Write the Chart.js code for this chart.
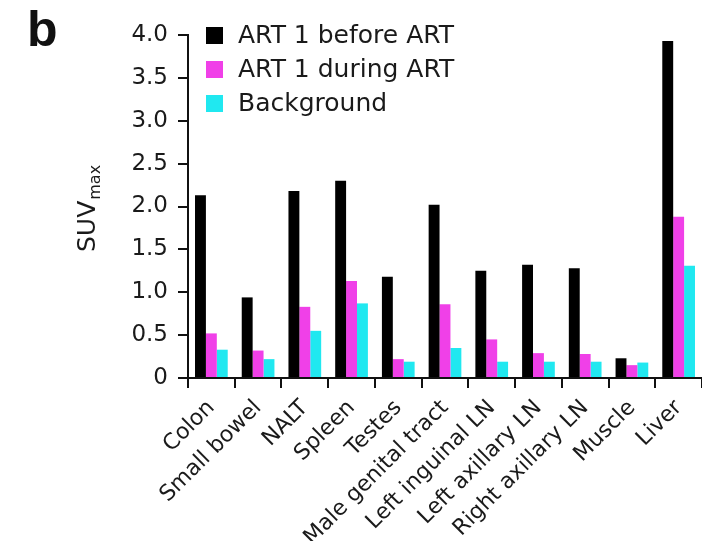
<!DOCTYPE html>
<html>
<head>
<meta charset="utf-8">
<script src="https://cdn.jsdelivr.net/npm/chart.js@4"></script>
<style>
html,body{margin:0;padding:0;background:#fff;}
canvas{display:block;}
</style>
</head>
<body>
<canvas id="c" width="702" height="541"></canvas>
<script>
const categories = ['Colon','Small bowel','NALT','Spleen','Testes','Male genital tract','Left inguinal LN','Left axillary LN','Right axillary LN','Muscle','Liver'];
const seriesNames = ['ART 1 before ART','ART 1 during ART','Background'];
const beforeART = [2.13, 0.94, 2.18, 2.30, 1.18, 2.02, 1.25, 1.32, 1.28, 0.23, 3.93];
const duringART = [0.52, 0.32, 0.83, 1.13, 0.22, 0.86, 0.45, 0.29, 0.28, 0.15, 1.88];
const background = [0.33, 0.22, 0.55, 0.87, 0.19, 0.35, 0.19, 0.19, 0.19, 0.18, 1.31];
const yTicks = [0, 0.5, 1.0, 1.5, 2.0, 2.5, 3.0, 3.5, 4.0];
const colors = ['#000000', '#F040E8', '#20E8F0'];
const FONT = "'DejaVu Sans', sans-serif";

const extras = {
  id: 'extras',
  afterDraw(chart) {
    const ctx = chart.ctx;
    ctx.save();
    // panel letter
    ctx.fillStyle = '#111';
    ctx.font = "bold 50px 'Liberation Sans', Arial, sans-serif";
    ctx.textBaseline = 'alphabetic';
    ctx.textAlign = 'left';
    ctx.fillText('b', 27, 46);
    // legend
    const rows = [35, 69, 103];
    chart.data.datasets.forEach((ds, i) => {
      ctx.fillStyle = ds.backgroundColor;
      ctx.fillRect(206, rows[i] - 8, 17, 17);
      ctx.fillStyle = '#1a1a1a';
      ctx.font = "25px " + FONT;
      ctx.textBaseline = 'middle';
      ctx.fillText(ds.label, 238, rows[i] + 1);
    });
    // y title SUV_max
    ctx.translate(95, 252);
    ctx.rotate(-Math.PI / 2);
    ctx.textBaseline = 'alphabetic';
    ctx.textAlign = 'left';
    ctx.fillStyle = '#1a1a1a';
    ctx.font = "25px " + FONT;
    ctx.fillText('SUV', 0, 0);
    const w = ctx.measureText('SUV').width;
    ctx.font = "16px " + FONT;
    ctx.fillText('max', w + 1, 5);
    ctx.restore();
  }
};

new Chart(document.getElementById('c'), {
  type: 'bar',
  data: {
    labels: categories,
    datasets: [
      { label: seriesNames[0], data: beforeART, backgroundColor: colors[0] },
      { label: seriesNames[1], data: duringART, backgroundColor: colors[1] },
      { label: seriesNames[2], data: background, backgroundColor: colors[2] }
    ]
  },
  options: {
    responsive: false,
    animation: false,
    layout: { padding: { top: 35, left: 0, right: -3, bottom: 0 } },
    datasets: { bar: { categoryPercentage: 0.7, barPercentage: 1.0 } },
    plugins: { legend: { display: false }, tooltip: { enabled: false } },
    scales: {
      x: {
        afterFit(scale) { scale.height = 541 - 378; scale.paddingRight = 0; },
        grid: { display: true, offset: true, drawOnChartArea: false, tickLength: 10, color: '#111', lineWidth: 2 },
        border: { display: true, color: '#111', width: 2 },
        ticks: {
          autoSkip: false, minRotation: 45, maxRotation: 45, padding: 7,
          color: '#1a1a1a', font: { family: FONT, size: 22 }
        }
      },
      y: {
        min: 0, max: 4,
        afterFit(scale) { scale.width = 188; },
        afterBuildTicks(scale) { scale.ticks = yTicks.map(v => ({ value: v })); },
        grid: { display: true, drawOnChartArea: false, tickLength: 10, color: '#111', lineWidth: 2 },
        border: { display: true, color: '#111', width: 2 },
        ticks: {
          padding: 10, color: '#1a1a1a', font: { family: FONT, size: 23 },
          callback: v => v === 0 ? '0' : v.toFixed(1)
        }
      }
    }
  },
  plugins: [extras]
});
</script>
</body>
</html>
